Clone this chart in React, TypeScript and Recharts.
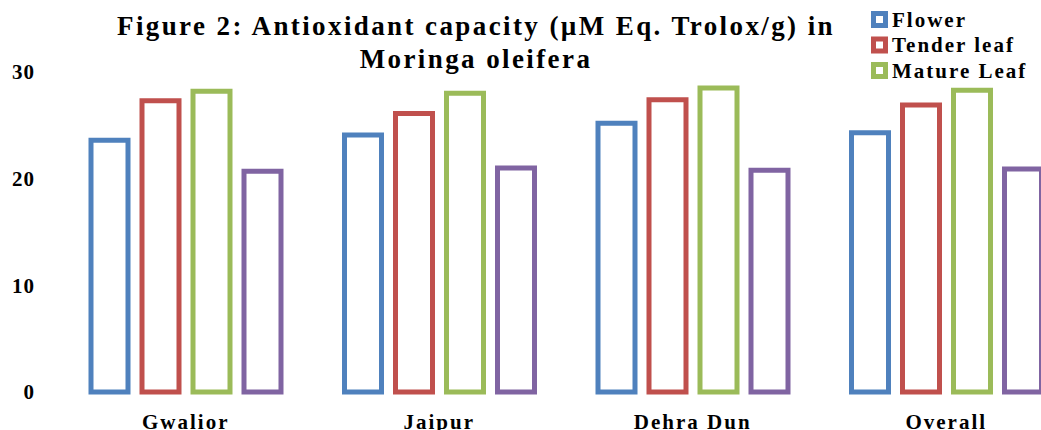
import React from "react";
import { BarChart, Bar, XAxis, YAxis } from "recharts";

const categories = ["Gwalior", "Jaipur", "Dehra Dun", "Overall"];
const flower = [23.6, 24.1, 25.2, 24.3];
const tenderLeaf = [27.3, 26.1, 27.4, 26.9];
const matureLeaf = [28.2, 28.0, 28.5, 28.3];
const fourth = [20.7, 21.0, 20.8, 20.9];
const yTicks = [0, 10, 20, 30];

const seriesNames = ["Flower", "Tender leaf", "Mature Leaf", "Seed"];
const seriesKeys = ["flower", "tender", "mature", "fourth"];
const seriesColors = ["#4F81BD", "#C0504D", "#9BBB59", "#8064A2"];
const legendCount = 3;

const titleLines = [
  "Figure 2: Antioxidant capacity (\u00b5M Eq. Trolox/g) in",
  "Moringa oleifera",
];

const data = categories.map((c, i) => ({
  name: c,
  flower: flower[i],
  tender: tenderLeaf[i],
  mature: matureLeaf[i],
  fourth: fourth[i],
}));

const FONT = "'Liberation Serif', 'Times New Roman', Times, serif";

export default function App() {
  return (
    <div
      style={{
        position: "fixed",
        left: 0,
        top: 0,
        width: 1041,
        height: 430,
        overflow: "hidden",
        background: "#fff",
      }}
    >
      <svg
        width={1041}
        height={90}
        style={{ position: "absolute", left: 0, top: 0, zIndex: 1 }}
      >
        {titleLines.map((t, i) => (
          <text
            key={i}
            x={476}
            y={35 + i * 33}
            textAnchor="middle"
            fontFamily={FONT}
            fontWeight="bold"
            fontSize={27}
            letterSpacing={2.4}
            fill="#000"
          >
            {t}
          </text>
        ))}
        {seriesNames.slice(0, legendCount).map((n, i) => {
          const cy = 19.5 + i * 25.5;
          return (
            <g key={n}>
              <rect
                x={873.5}
                y={cy - 6}
                width={12}
                height={12}
                fill="#fff"
                stroke={seriesColors[i]}
                strokeWidth={5}
              />
              <text
                x={892}
                y={cy + 7}
                fontFamily={FONT}
                fontWeight="bold"
                fontSize={21}
                letterSpacing={2}
                fill="#000"
              >
                {n}
              </text>
            </g>
          );
        })}
      </svg>
      <BarChart
        width={1073}
        height={442}
        data={data}
        margin={{ top: 72, right: 0, left: 0, bottom: 0 }}
        barSize={37}
        barGap={14}
      >
        <XAxis
          dataKey="name"
          axisLine={false}
          tickLine={false}
          tickSize={0}
          tickMargin={22}
          height={50}
          interval={0}
          tick={{
            fill: "#000",
            fontFamily: FONT,
            fontWeight: "bold",
            fontSize: 21,
            letterSpacing: 2,
          }}
        />
        <YAxis
          domain={[0, 30]}
          ticks={yTicks}
          axisLine={false}
          tickLine={false}
          tickSize={0}
          tickMargin={24}
          width={59}
          tick={{
            fill: "#000",
            fontFamily: FONT,
            fontWeight: "bold",
            fontSize: 21,
            letterSpacing: 1,
          }}
        />
        {seriesKeys.map((k, i) => (
          <Bar
            key={k}
            dataKey={k}
            name={seriesNames[i]}
            fill="#fff"
            stroke={seriesColors[i]}
            strokeWidth={5}
            isAnimationActive={false}
          />
        ))}
      </BarChart>
    </div>
  );
}
